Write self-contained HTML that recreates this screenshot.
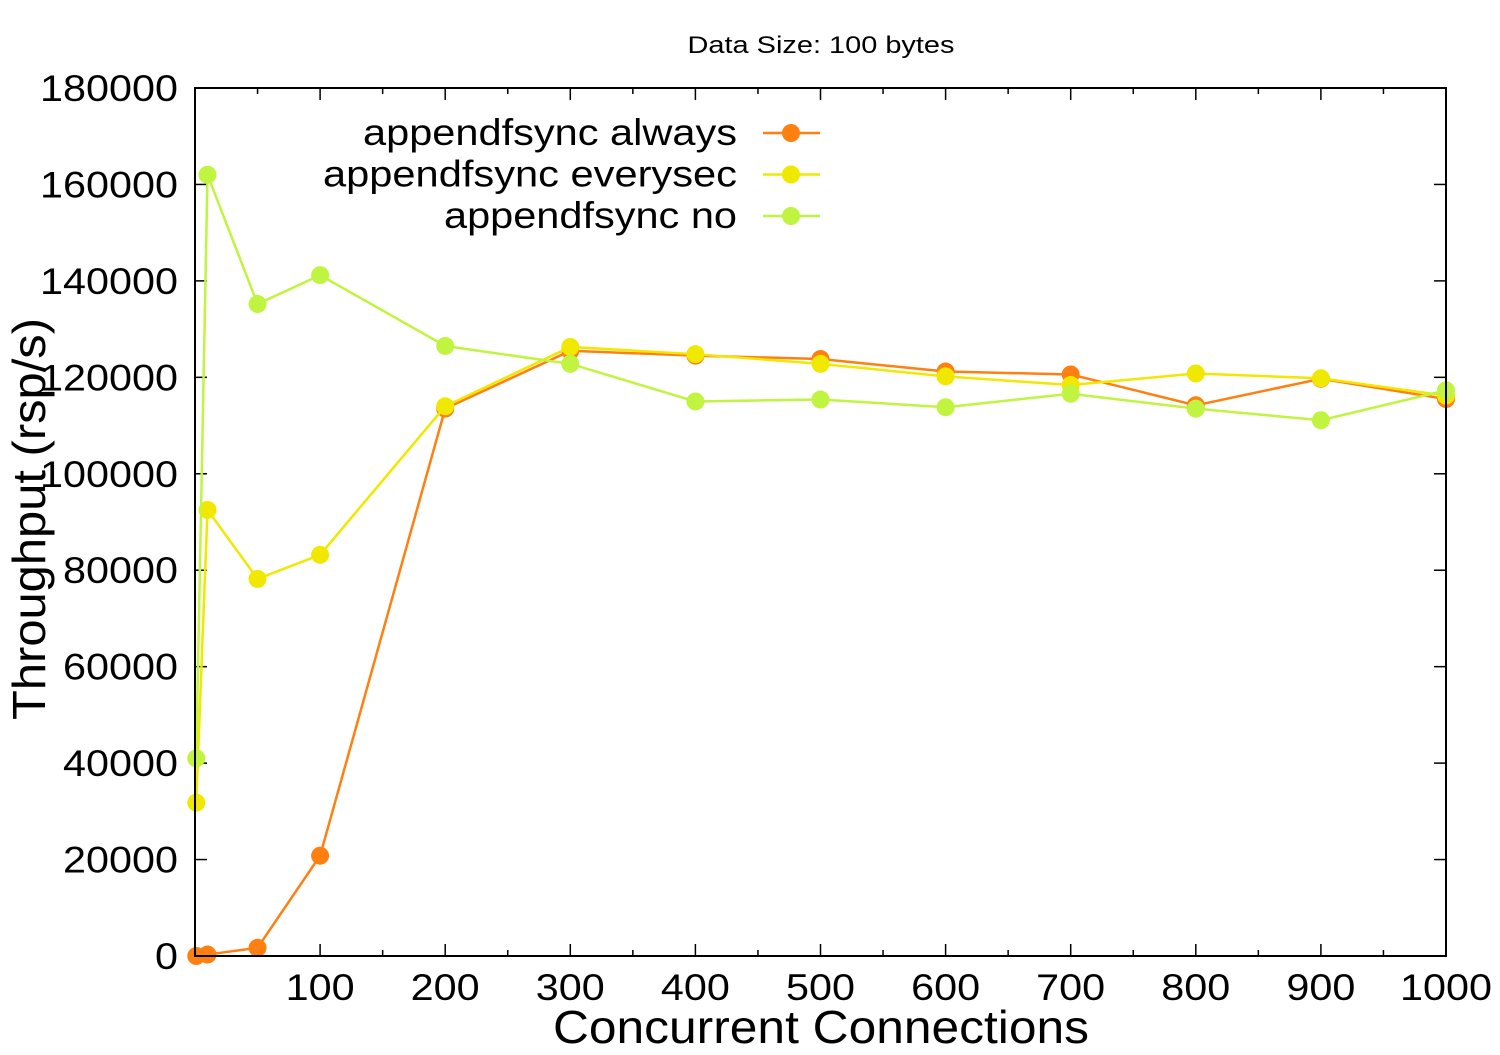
<!DOCTYPE html>
<html><head><meta charset="utf-8"><style>
body{margin:0;background:#fff;}
svg text{font-family:"Liberation Sans",sans-serif;fill:#000;}
</style></head><body>
<svg id="chart" width="1500" height="1050" xmlns="http://www.w3.org/2000/svg">
<text x="821" y="53" font-size="24" text-anchor="middle" textLength="267" lengthAdjust="spacingAndGlyphs">Data Size: 100 bytes</text>
<g id="axes"></g>
<g id="series"></g>
<g id="legend"></g>
<rect x="195" y="88" width="1251" height="868" fill="none" stroke="#000" stroke-width="2"/>
<text x="821" y="1043" font-size="46" text-anchor="middle" textLength="536" lengthAdjust="spacingAndGlyphs">Concurrent Connections</text>
<text transform="translate(45,519) rotate(-90)" font-size="46" text-anchor="middle" textLength="402" lengthAdjust="spacingAndGlyphs">Throughput (rsp/s)</text>
</svg>
<script>
const xValues=[1,10,50,100,200,300,400,500,600,700,800,900,1000];
const seriesNames=["appendfsync always","appendfsync everysec","appendfsync no"];
const alwaysVals=[0,300,1700,20800,113500,125500,124500,123800,121200,120600,114200,119700,115500];
const everysecVals=[31800,92500,78200,83200,114000,126300,124800,122800,120200,118400,120800,119800,116200];
const noVals=[41000,162000,135200,141200,126500,122800,115000,115400,113800,116600,113500,111100,117300];
const yTicks=[0,20000,40000,60000,80000,100000,120000,140000,160000,180000];
const xTicks=[100,200,300,400,500,600,700,800,900,1000];
const colors=["#ff8010","#f0e800","#c0f440"];
const NS="http://www.w3.org/2000/svg";
const X0=195,X1=1446,Y0=956,Y1=88;
function sx(v){return X0+(v-0)/1000*(X1-X0);}
function sy(v){return Y0-v/180000*(Y0-Y1);}
function mk(t,a,p){const e=document.createElementNS(NS,t);for(const k in a)e.setAttribute(k,a[k]);p.appendChild(e);return e;}
const axes=document.getElementById('axes');
yTicks.forEach(v=>{
  const l=mk('line',{x1:X0,x2:X0+12,y1:sy(v),y2:sy(v),stroke:'#000','stroke-width':1.5},axes);
  
  
  const r=mk('line',{x1:X1-12,x2:X1,y1:sy(v),y2:sy(v),stroke:'#000','stroke-width':1.5},axes);
  
  
  const s=String(v);
  const t=mk('text',{x:178,y:sy(v)+13,'font-size':37,'text-anchor':'end',textLength:s.length*23,lengthAdjust:'spacingAndGlyphs'},axes);
  t.textContent=v;
  
  
});
for(let v=50;v<1000;v+=50){
  const major=v%100===0;
  const l=mk('line',{x1:sx(v),x2:sx(v),y1:Y0,y2:Y0-(major?12:6),stroke:'#000','stroke-width':1.5},axes);
  
  
  const u=mk('line',{x1:sx(v),x2:sx(v),y1:Y1,y2:Y1+(major?12:6),stroke:'#000','stroke-width':1.5},axes);
  
  
}
xTicks.forEach(v=>{
  const s=String(v);
  const t=mk('text',{x:sx(v),y:1000,'font-size':37,'text-anchor':'middle',textLength:s.length*23,lengthAdjust:'spacingAndGlyphs'},axes);
  t.textContent=v;
  
  
});
const legendLens=[374,414,293];
const ser=document.getElementById('series');
const leg=document.getElementById('legend');
[alwaysVals,everysecVals,noVals].forEach((vals,i)=>{
  const g=mk('g',{},ser);
  
  
  const pl=mk('polyline',{points:vals.map((v,j)=>sx(xValues[j])+','+sy(v)).join(' '),fill:'none',stroke:colors[i],'stroke-width':2.5},g);
  
  
  vals.forEach((v,j)=>{
    const c=mk('circle',{cx:sx(xValues[j]),cy:sy(v),r:9,fill:colors[i]},g);
    
    
  });
  const ly=133+i*41.5;
  const lg=mk('g',{},leg);
  
  
  const t=mk('text',{x:737,y:ly+12,'font-size':37,'text-anchor':'end',textLength:legendLens[i],lengthAdjust:'spacingAndGlyphs'},lg);
  t.textContent=seriesNames[i];
  mk('line',{x1:763,x2:820,y1:ly,y2:ly,stroke:colors[i],'stroke-width':2.5},lg);
  mk('circle',{cx:791,cy:ly,r:9,fill:colors[i]},lg);
});
</script>
</body></html>
